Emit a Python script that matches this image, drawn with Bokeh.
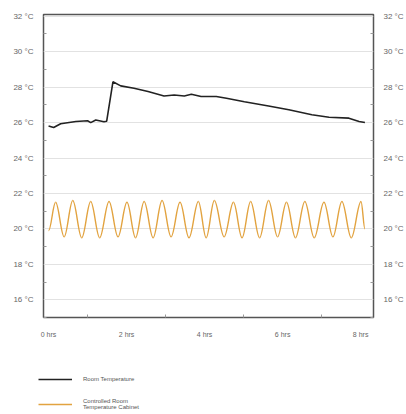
from bokeh.plotting import figure
from bokeh.layouts import column
from bokeh.models import Range1d, FixedTicker, LinearAxis, Legend, LegendItem, ColumnDataSource
from bokeh.embed import file_html
from bokeh.resources import INLINE

# Room temperature (hours, °C)
room_hours = [0.0, 0.13, 0.31, 0.70, 1.00, 1.08, 1.21, 1.42, 1.49, 1.65, 1.85, 2.19, 2.55,
              2.96, 3.22, 3.48, 3.66, 3.91, 4.30, 4.56, 5.02, 5.64, 6.16, 6.75, 7.19, 7.70,
              7.96, 8.11]
room_temp = [25.81, 25.72, 25.93, 26.06, 26.10, 26.00, 26.15, 26.05, 26.08, 28.30, 28.07,
             27.94, 27.75, 27.50, 27.56, 27.50, 27.60, 27.47, 27.47, 27.37, 27.18, 26.94,
             26.72, 26.44, 26.30, 26.25, 26.06, 26.00]

# Controlled room temperature cabinet: turning points of the oscillation (hours, °C)
cab_hours = [0.0, 0.18, 0.40, 0.62, 0.85, 1.08, 1.31, 1.55, 1.78, 2.01, 2.23, 2.45, 2.68,
             2.91, 3.14, 3.37, 3.60, 3.84, 4.04, 4.25, 4.50, 4.74, 4.96, 5.18, 5.41, 5.64,
             5.87, 6.10, 6.33, 6.57, 6.81, 7.06, 7.29, 7.52, 7.76, 8.01, 8.11]
cab_temp = [19.90, 21.50, 19.55, 21.60, 19.50, 21.55, 19.50, 21.55, 19.55, 21.50, 19.50,
            21.55, 19.50, 21.60, 19.55, 21.50, 19.50, 21.55, 19.50, 21.60, 19.55, 21.50,
            19.50, 21.55, 19.50, 21.60, 19.55, 21.50, 19.50, 21.55, 19.50, 21.50, 19.55,
            21.55, 19.50, 21.55, 20.00]

y_ticks = [16, 18, 20, 22, 24, 26, 28, 30, 32]
y_minor = [15, 17, 19, 21, 23, 25, 27, 29, 31]
y_tick_labels = ["16 °C", "18 °C", "20 °C", "22 °C", "24 °C", "26 °C", "28 °C", "30 °C", "32 °C"]
x_ticks = [0, 2, 4, 6, 8]
x_minor = [1, 3, 5, 7]
x_tick_labels = ["0 hrs", "2 hrs", "4 hrs", "6 hrs", "8 hrs"]

series_names = ["Room Temperature", "Controlled Room\nTemperature Cabinet"]
series_colors = ["#222222", "#E2A340"]

FONT = "Liberation Sans"

p = figure(frame_width=330, frame_height=303, output_backend="svg", toolbar_location=None,
           x_range=Range1d(-0.13, 8.33), y_range=Range1d(15, 32.1),
           min_border_left=43, min_border_right=33, min_border_top=14, min_border_bottom=23)
p.background_fill_color = "white"
p.border_fill_color = "white"
p.outline_line_color = "#555555"
p.outline_line_width = 1.5

p.xgrid.visible = False
p.ygrid.ticker = FixedTicker(ticks=y_ticks)
p.ygrid.grid_line_color = "#e2e2e2"
p.ygrid.grid_line_width = 1


def style_axis(ax, ticks, minor, labels, size):
    ax.ticker = FixedTicker(ticks=ticks, minor_ticks=minor)
    ax.major_label_overrides = {t: l for t, l in zip(ticks, labels)}
    ax.axis_line_color = None
    ax.major_tick_line_color = None
    ax.minor_tick_in = 3
    ax.minor_tick_out = 0
    ax.minor_tick_line_color = "#9a9a9a"
    ax.major_label_text_font = FONT
    ax.major_label_text_font_size = size
    ax.major_label_text_color = "#666666"


style_axis(p.yaxis[0], y_ticks, y_minor, y_tick_labels, "8px")
p.yaxis[0].major_label_standoff = 4
style_axis(p.xaxis[0], x_ticks, x_minor, x_tick_labels, "7px")
p.xaxis[0].major_label_standoff = 7

right = LinearAxis()
style_axis(right, y_ticks, y_minor, y_tick_labels, "8px")
right.major_label_standoff = 4
p.add_layout(right, "right")

p.line(room_hours, room_temp, line_color=series_colors[0], line_width=1.6)

# smooth oscillation: curve segments between consecutive turning points
x0 = cab_hours[:-1]
x1 = cab_hours[1:]
y0 = cab_temp[:-1]
y1 = cab_temp[1:]
k = 0.3642
cx0 = [a + k * (b - a) for a, b in zip(x0, x1)]
cx1 = [b - k * (b - a) for a, b in zip(x0, x1)]
src = ColumnDataSource(dict(x0=x0, y0=y0, x1=x1, y1=y1, cx0=cx0, cy0=y0, cx1=cx1, cy1=y1))
p.bezier(x0="x0", y0="y0", x1="x1", y1="y1", cx0="cx0", cy0="cy0", cx1="cx1", cy1="cy1",
         source=src, line_color=series_colors[1], line_width=1.4)

# legend panel beneath the chart (same series, drawn outside its visible range)
leg = figure(frame_width=406, frame_height=74, output_backend="svg", toolbar_location=None,
             x_axis_type=None, y_axis_type=None,
             x_range=Range1d(100, 101), y_range=Range1d(100, 101),
             min_border_left=0, min_border_right=0, min_border_top=0, min_border_bottom=0)
leg.grid.visible = False
leg.outline_line_color = None
leg.background_fill_color = "white"
leg.border_fill_color = "white"
r_room = leg.line(room_hours, room_temp, line_color=series_colors[0], line_width=1.6)
r_cab = leg.line(cab_hours, cab_temp, line_color=series_colors[1], line_width=1.4)

legend = Legend(items=[LegendItem(label=series_names[0], renderers=[r_room]),
                       LegendItem(label=series_names[1], renderers=[r_cab])],
                location=(38, 4), orientation="vertical")
legend.border_line_color = None
legend.background_fill_alpha = 0
legend.label_text_font = FONT
legend.label_text_font_size = "6px"
legend.label_text_color = "#555555"
legend.glyph_width = 34
legend.glyph_height = 10
legend.label_height = 10
legend.label_standoff = 11
legend.spacing = 14
legend.padding = 0
legend.margin = 0
leg.add_layout(legend, "center")

layout = column(p, leg, spacing=0)
open("out.html", "w").write(file_html(layout, INLINE))
